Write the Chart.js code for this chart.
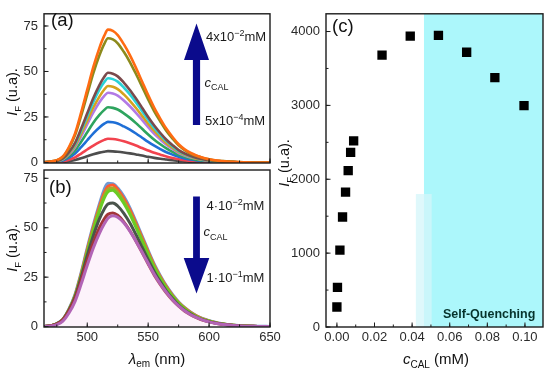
<!DOCTYPE html>
<html><head><meta charset="utf-8">
<script src="https://cdn.jsdelivr.net/npm/chart.js@4/dist/chart.umd.min.js"></script>
<style>
html,body{margin:0;padding:0;background:#fff;width:550px;height:371px;overflow:hidden}
canvas{position:absolute;left:0;top:0}
</style></head><body>
<canvas id="ca" width="550" height="371"></canvas>
<canvas id="cb" width="550" height="371"></canvas>
<canvas id="cc" width="550" height="371"></canvas>
<script>
// ---------- DATA ----------
const wavelengths = [465,470,475,480,485,490,495,500,505,510,514,517,521,525,530,535,540,545,550,555,560,565,570,575,580,585,590,595,600,605,610,620,630,640,650];

// panel (a): increasing c_CAL (5x10^-4 -> 4x10^-2 mM)
const a_orange = [0.2,0.5,1.2,3.3,8.5,16,27.5,40,52.5,63,69.7,73,72.3,70,65,59,52,44.5,37,30,24,18.5,14,10,7.2,5.2,3.7,2.6,1.8,1.2,0.8,0.3,0.1,0,0];
const a_olive  = [0.2,0.5,1.2,3.1,7.9,15,25.7,37.4,49.1,58.9,65.2,68.3,67.6,65.5,60.8,55.2,48.6,41.7,34.6,28.1,22.5,17.3,13.1,9.4,6.8,4.8,3.5,2.5,1.7,1.1,0.8,0.3,0.1,0,0];
const a_brown  = [0.15,0.35,0.8,2.2,5.7,10.8,18.6,27,35.4,42.5,47.1,49.3,48.8,47.3,43.9,39.8,35.1,30.1,25,20.3,16.2,12.5,9.5,6.8,4.9,3.5,2.5,1.8,1.2,0.8,0.5,0.2,0.05,0,0];
const a_cyan   = [0.1,0.3,0.8,2.1,5.4,10.1,17.5,25.4,33.3,40,44.2,46.3,45.8,44.4,41.2,37.4,33,28.2,23.5,19,15.2,11.7,8.9,6.3,4.6,3.3,2.4,1.7,1.2,0.7,0.5,0.2,0,0,0];
const a_gold   = [0.1,0.3,0.7,1.9,4.9,9.2,15.8,23,30.2,36.2,40.1,42,41.6,40.3,37.4,33.9,29.9,25.6,21.3,17.3,13.8,10.6,8.1,5.8,4.2,3,2.1,1.5,1.1,0.7,0.5,0.2,0,0,0];
const a_purple = [0.1,0.3,0.7,1.7,4.4,8.4,14.4,21,27.5,33.1,36.6,38.3,37.9,36.7,34.1,30.9,27.3,23.4,19.4,15.7,12.6,9.7,7.4,5.2,3.8,2.7,2,1.4,1,0.6,0.4,0.2,0,0,0];
const a_green  = [0.1,0.2,0.5,1.4,3.5,6.6,11.4,16.6,21.8,26.1,28.9,30.3,30,29.1,27,24.5,21.6,18.5,15.4,12.5,10,7.7,5.8,4.2,3,2.2,1.5,1.1,0.8,0.5,0.3,0.1,0,0,0];
const a_blue   = [0.1,0.2,0.4,1,2.6,4.9,8.4,12.2,16,19.2,21.3,22.3,22.1,21.4,19.8,18,15.9,13.6,11.3,9.2,7.3,5.6,4.3,3.1,2.2,1.6,1.1,0.8,0.6,0.4,0.2,0.1,0,0,0];
const a_red    = [0,0.1,0.2,0.6,1.5,2.8,4.9,7.1,9.3,11.2,12.4,13,12.9,12.5,11.6,10.5,9.3,7.9,6.6,5.3,4.3,3.3,2.5,1.8,1.3,0.9,0.7,0.5,0.3,0.2,0.1,0.1,0,0,0];
const a_gray   = [0,0,0.1,0.3,0.7,1.4,2.3,3.4,4.5,5.4,5.9,6.2,6.1,5.9,5.5,5,4.4,3.8,3.1,2.5,2,1.6,1.2,0.8,0.6,0.4,0.3,0.2,0.2,0.1,0.1,0,0,0,0];

// panel (b): decreasing (4x10^-2 -> 1x10^-1 mM)
const b_blue   = [0.1,0.4,1.5,3.7,8.8,16.1,27,39.4,51.1,61.7,69.3,72.4,72.2,70,65.7,59.9,52.9,45.6,38.3,31.4,25.6,20.4,16.1,12.4,9.5,7.2,5.3,3.9,2.9,2.1,1.5,0.7,0.3,0.1,0];
const b_orange = [0.1,0.4,1.4,3.6,8.6,15.8,26.6,38.9,50.4,60.8,67.7,70.9,71.6,69.4,64.8,59.1,52.2,45,37.8,31,25.2,20.2,15.8,12.2,9.4,7.1,5.3,3.9,2.9,2.1,1.4,0.7,0.3,0.1,0];
const b_olive  = [0.1,0.4,1.4,3.6,8.5,15.6,26.1,38.1,49.4,59.6,66.3,69.5,70.1,68,63.5,57.8,51.1,44.1,37,30.3,24.7,19.7,15.5,12,9.2,6.9,5.1,3.8,2.8,2,1.4,0.7,0.3,0.1,0];
const b_green  = [0.1,0.4,1.4,3.5,8.4,15.3,25.6,37.4,48.5,58.5,65.1,68.2,69,66.8,62.4,56.8,50.2,43.3,36.4,29.8,24.3,19.4,15.3,11.8,9,6.8,5,3.7,2.8,2,1.4,0.7,0.3,0.1,0];
const b_gray   = [0.1,0.4,1.4,3.5,8.3,15,25,36,46,54.5,59.5,62,62.5,61,57.3,52.4,46.5,40.2,33.8,27.8,22.6,18,14.2,10.9,8.3,6.3,4.6,3.4,2.5,1.8,1.3,0.6,0.2,0.1,0];
const b_red    = [0.1,0.4,1.3,3.4,8,14.3,23.5,33.5,42.5,50,54.5,56.8,57.5,56.3,53,48.5,43.2,37.5,31.6,26,21.2,16.9,13.3,10.3,7.8,5.9,4.4,3.2,2.4,1.7,1.2,0.6,0.2,0.1,0];
const b_purple = [0.1,0.3,1,2.8,6.9,12.8,21.5,31,39.8,47.2,52,54.8,56,55.3,52.5,48.3,43.2,37.7,32,26.5,21.6,17.3,13.6,10.5,8,6,4.5,3.3,2.4,1.7,1.2,0.6,0.2,0.1,0];

// panel (c): integrated intensity vs concentration
const c_conc = [0, 0.0003, 0.0016, 0.003, 0.0046, 0.006, 0.0073, 0.0089, 0.024, 0.039, 0.054, 0.069, 0.084, 0.0995];
const c_int  = [271, 537, 1040, 1489, 1827, 2116, 2364, 2520, 3680, 3937, 3947, 3720, 3377, 2996];

// tick labels
const ticksIF = [0, 25, 50, 75];
const ticksLambda = [500, 550, 600, 650];
const ticksConc = [0, 0.02, 0.04, 0.06, 0.08, 0.10];
const ticksIntensity = [0, 1000, 2000, 3000, 4000];

// self-quenching region
const quenchStart = 0.0463;
const stripRange = [0.042, 0.0504];
const stripTop = 1800;

// ---------- HELPERS ----------
const FONT = '"Liberation Sans", Arial, sans-serif';
const ARROW = '#0b0b8c';

function rich(ctx, x, y, segs, align) {
  let total = 0;
  segs.forEach(s => { ctx.font = (s[2]||'') + ' ' + s[1] + 'px ' + FONT; total += ctx.measureText(s[0]).width; });
  let cx = align === 'center' ? x - total/2 : (align === 'right' ? x - total : x);
  ctx.textAlign = 'left'; ctx.textBaseline = 'alphabetic';
  segs.forEach(s => {
    ctx.font = (s[2]||'') + ' ' + s[1] + 'px ' + FONT;
    ctx.fillText(s[0], cx, y + (s[3]||0));
    cx += ctx.measureText(s[0]).width;
  });
}

const framePlugin = {
  id: 'frame',
  afterDatasetsDraw(chart, args, o) {
    const {ctx, chartArea: ca, scales} = chart;
    ctx.save();
    ctx.strokeStyle = '#1c1c1c';
    ctx.lineWidth = 1;
    ctx.beginPath();
    const marks = (scale, step, len, horiz) => {
      const mn = scale.min, mx = scale.max;
      for (let v = Math.ceil(mn/step - 1e-9)*step; v <= mx + 1e-9; v += step) {
        const p = scale.getPixelForValue(v);
        if (horiz) { ctx.moveTo(p, ca.bottom); ctx.lineTo(p, ca.bottom - len); }
        else { ctx.moveTo(ca.left, p); ctx.lineTo(ca.left + len, p); }
      }
    };
    marks(scales.x, o.xMajor, 4.5, true);
    marks(scales.x, o.xMinor, 2.5, true);
    marks(scales.y, o.yMajor, 4.5, false);
    marks(scales.y, o.yMinor, 2.5, false);
    ctx.stroke();
    ctx.lineWidth = 1.4;
    ctx.strokeRect(ca.left, ca.top, ca.right - ca.left, ca.bottom - ca.top);
    ctx.restore();
  },
  afterDraw(chart, args, o) {
    if (o.draw) { const ctx = chart.ctx; ctx.save(); o.draw(ctx, chart); ctx.restore(); }
  }
};

function upArrow(ctx, cx, tip, headBase, tail, headHalf, shaftHalf) {
  ctx.fillStyle = ARROW;
  ctx.beginPath();
  ctx.moveTo(cx, tip);
  ctx.lineTo(cx + headHalf, headBase);
  ctx.lineTo(cx + shaftHalf, headBase);
  ctx.lineTo(cx + shaftHalf, tail);
  ctx.lineTo(cx - shaftHalf, tail);
  ctx.lineTo(cx - shaftHalf, headBase);
  ctx.lineTo(cx - headHalf, headBase);
  ctx.closePath();
  ctx.fill();
}

function lineDS(data, color, width, extra) {
  return Object.assign({
    data: data.map((v, i) => ({x: wavelengths[i], y: v})),
    borderColor: color, borderWidth: width, pointRadius: 0,
    cubicInterpolationMode: 'monotone', fill: false
  }, extra || {});
}

function axisX(min, max, ticks, show, h, fmt) {
  return {
    type: 'linear', min, max, position: 'bottom',
    grid: {display: false, drawTicks: false}, border: {display: false},
    afterBuildTicks: s => { s.ticks = ticks.map(v => ({value: v})); },
    afterFit: s => { s.height = h; },
    ticks: {display: show, padding: 3, color: '#2b2b2b', font: {family: FONT, size: 13},
            callback: fmt || (v => String(v)), maxRotation: 0, minRotation: 0, autoSkip: false}
  };
}
function axisY(min, max, ticks, w) {
  return {
    type: 'linear', min, max, position: 'left',
    grid: {display: false, drawTicks: false}, border: {display: false},
    afterBuildTicks: s => { s.ticks = ticks.map(v => ({value: v})); },
    afterFit: s => { s.width = w; },
    ticks: {padding: 6, color: '#2b2b2b', font: {family: FONT, size: 13}, autoSkip: false,
            callback: v => String(v)}
  };
}
const base = {responsive: false, animation: false, events: [], devicePixelRatio: 1};

function yTitle(ctx, x, y) {
  ctx.save(); ctx.translate(x, y); ctx.rotate(-Math.PI/2);
  ctx.fillStyle = '#111';
  rich(ctx, 0, 0, [['I', 14.5, 'italic'], ['F', 9.5, '', 3.5], [' (u.a).', 14.5, '']], 'center');
  ctx.restore();
}

// ---------- PANEL (a) ----------
new Chart(document.getElementById('ca'), {
  type: 'line',
  data: {datasets: [
    lineDS(a_orange, '#ff6b12', 2.6),
    lineDS(a_olive,  '#8c8a1c', 2.6),
    lineDS(a_brown,  '#7b4a4c', 2.6),
    lineDS(a_cyan,   '#2ad2d6', 2.6),
    lineDS(a_gold,   '#d5a21e', 2.6),
    lineDS(a_purple, '#b27ae6', 2.6),
    lineDS(a_green,  '#2ea45e', 2.6),
    lineDS(a_blue,   '#1f6fd6', 2.6),
    lineDS(a_red,    '#f2434e', 2.6),
    lineDS(a_gray,   '#4d4d4d', 2.6)
  ]},
  options: Object.assign({}, base, {
    layout: {padding: {left: 0, top: 4, right: 280, bottom: 208}},
    scales: {x: axisX(464.5, 650, ticksLambda, false, 0), y: axisY(-0.3, 81.7, ticksIF, 44)},
    plugins: {legend: {display: false}, tooltip: {enabled: false},
      frame: {xMajor: 50, xMinor: 25, yMajor: 25, yMinor: 12.5, draw: (ctx) => {
        ctx.fillStyle = '#111';
        rich(ctx, 51, 26, [['(a)', 18.5, '']], 'left');
        yTitle(ctx, 17, 92);
        upArrow(ctx, 196.5, 23.5, 60, 125, 12.5, 3.6);
        ctx.fillStyle = '#1a1a1a';
        rich(ctx, 206, 40.5, [['4x10', 13, ''], ['\u22122', 9, '', -5], ['mM', 13, '']], 'left');
        rich(ctx, 204.5, 86.5, [['c', 13, 'italic'], ['CAL', 9, '', 3.5]], 'left');
        rich(ctx, 205, 124.5, [['5x10', 13, ''], ['\u22124', 9, '', -5], ['mM', 13, '']], 'left');
      }}}
  }),
  plugins: [framePlugin]
});

// ---------- PANEL (b) ----------
new Chart(document.getElementById('cb'), {
  type: 'line',
  data: {datasets: [
    lineDS(b_purple, '#b264b6', 3, {fill: 'origin', backgroundColor: 'rgba(247,196,236,0.2)'}),
    lineDS(b_red,    '#a3363a', 3),
    lineDS(b_gray,   '#4a544c', 3),
    lineDS(b_green,  '#6acc24', 3),
    lineDS(b_olive,  '#a9a82a', 3),
    lineDS(b_orange, '#ff5a32', 3),
    lineDS(b_blue,   '#6f9ad4', 3.4)
  ]},
  options: Object.assign({}, base, {
    layout: {padding: {left: 0, top: 170, right: 280, bottom: 24}},
    scales: {x: axisX(464.5, 650, ticksLambda, true, 20), y: axisY(-0.2, 79.2, ticksIF, 44)},
    plugins: {legend: {display: false}, tooltip: {enabled: false}, filler: {propagate: false},
      frame: {xMajor: 50, xMinor: 25, yMajor: 25, yMinor: 12.5, draw: (ctx) => {
        ctx.fillStyle = '#111';
        rich(ctx, 49, 193, [['(b)', 18.5, '']], 'left');
        yTitle(ctx, 17, 248);
        // down arrow (mirror of an up arrow)
        ctx.save(); ctx.translate(0, 196.5 + 293.5); ctx.scale(1, -1);
        upArrow(ctx, 196.5, 196.5, 232, 293.5, 12.8, 3.4);
        ctx.restore();
        ctx.fillStyle = '#1a1a1a';
        rich(ctx, 206.5, 209.5, [['4\u00b710', 13, ''], ['\u22122', 9, '', -5], ['mM', 13, '']], 'left');
        rich(ctx, 203.5, 236, [['c', 13, 'italic'], ['CAL', 9, '', 3.5]], 'left');
        rich(ctx, 206.5, 281.5, [['1\u00b710', 13, ''], ['\u22121', 9, '', -5], ['mM', 13, '']], 'left');
        ctx.fillStyle = '#111';
        rich(ctx, 157, 363.5, [['\u03bb', 15, 'italic'], ['em', 10, '', 3.5], [' (nm)', 15, '']], 'center');
      }}}
  }),
  plugins: [framePlugin]
});

// ---------- PANEL (c) ----------
const shadePlugin = {
  id: 'shade',
  beforeDatasetsDraw(chart) {
    const {ctx, chartArea: ca, scales: {x, y}} = chart;
    ctx.save();
    const x0 = x.getPixelForValue(quenchStart);
    ctx.fillStyle = '#acf7fb';
    ctx.fillRect(x0, ca.top, ca.right - x0, ca.bottom - ca.top);
    const s0 = x.getPixelForValue(stripRange[0]), s1 = x.getPixelForValue(stripRange[1]);
    const sy = y.getPixelForValue(stripTop);
    ctx.fillStyle = 'rgba(212,246,250,0.75)';
    ctx.fillRect(s0, sy, s1 - s0, ca.bottom - sy);
    ctx.restore();
  }
};
new Chart(document.getElementById('cc'), {
  type: 'scatter',
  data: {datasets: [{
    data: c_conc.map((v, i) => ({x: v, y: c_int[i]})),
    pointStyle: 'rect', pointRadius: 6.6, backgroundColor: '#000', borderColor: '#000', borderWidth: 0
  }]},
  options: Object.assign({}, base, {
    layout: {padding: {left: 276, top: 9, right: 7, bottom: 24}},
    scales: {x: axisX(-0.0058, 0.1096, ticksConc, true, 20, v => v.toFixed(2)), y: axisY(0, 4240, ticksIntensity, 50)},
    plugins: {legend: {display: false}, tooltip: {enabled: false},
      frame: {xMajor: 0.02, xMinor: 0.01, yMajor: 1000, yMinor: 500, draw: (ctx) => {
        ctx.fillStyle = '#111';
        rich(ctx, 332, 32, [['(c)', 18.5, '']], 'left');
        yTitle(ctx, 289, 163);
        ctx.fillStyle = '#06332c';
        rich(ctx, 443, 317.5, [['Self-Quenching', 12.5, 'bold']], 'left');
        ctx.fillStyle = '#111';
        rich(ctx, 436, 364, [['c', 15, 'italic'], ['CAL', 10, '', 3.5], [' (mM)', 15, '']], 'center');
      }}}
  }),
  plugins: [shadePlugin, framePlugin]
});
</script>
</body></html>
